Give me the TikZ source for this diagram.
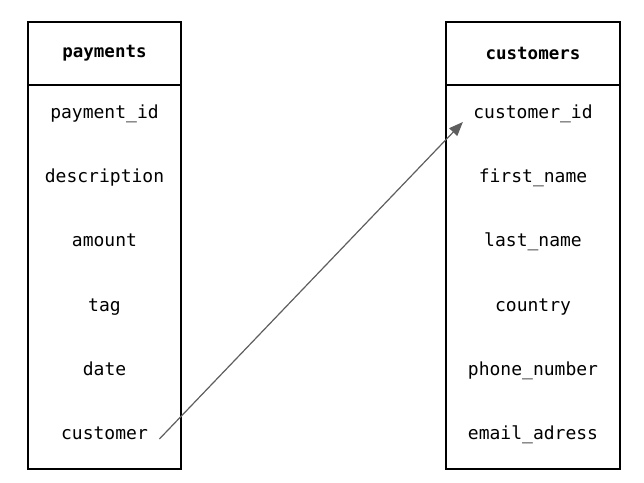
\documentclass[tikz,border=0pt]{standalone}
\usepackage{fontspec}
\setmonofont{DejaVu Sans Mono}
\usepackage{tikz}
\usetikzlibrary{arrows.meta,calc}

\definecolor{linkgray}{HTML}{5E5E5E}

\tikzset{
  tablehead/.style={draw, line width=2.8pt, outer sep=0pt, minimum height=63pt,
    font=\ttfamily\bfseries\fontsize{17.5}{21}\selectfont},
  tablebody/.style={draw, line width=2.8pt, outer sep=0pt, minimum height=384pt},
  field/.style={font=\ttfamily\fontsize{18}{21}\selectfont,
    text height=13pt, text depth=4pt},
  fkey/.style={draw=linkgray, line width=1.2pt,
    -{Triangle[length=14pt,width=11pt]}}
}

\begin{document}
\begin{tikzpicture}[x=1pt,y=-1pt]
\useasboundingbox (0,0) rectangle (644,482);

% payments table
\node[tablehead, minimum width=153pt] (payhead) at (104.5,53.5) {payments};
\node[tablebody, minimum width=153pt, anchor=north] (paybody) at (payhead.south) {};
\foreach \f [count=\i] in {payment\_id,description,amount,tag,date,customer}
  \node[field] (p\i) at (104.5,{114+64.2*(\i-1)}) {\f};

% customers table
\node[tablehead, minimum width=174pt] (cushead) at (533,53.5) {customers};
\node[tablebody, minimum width=174pt, anchor=north] (cusbody) at (cushead.south) {};
\foreach \f [count=\i] in {customer\_id,first\_name,last\_name,country,phone\_number,email\_adress}
  \node[field] (c\i) at (533,{114+64.2*(\i-1)}) {\f};

% foreign key
\draw[fkey] ([shift={(8,4)}]p6.east) -- ([shift={(-7,8)}]c1.west);
\end{tikzpicture}
\end{document}
